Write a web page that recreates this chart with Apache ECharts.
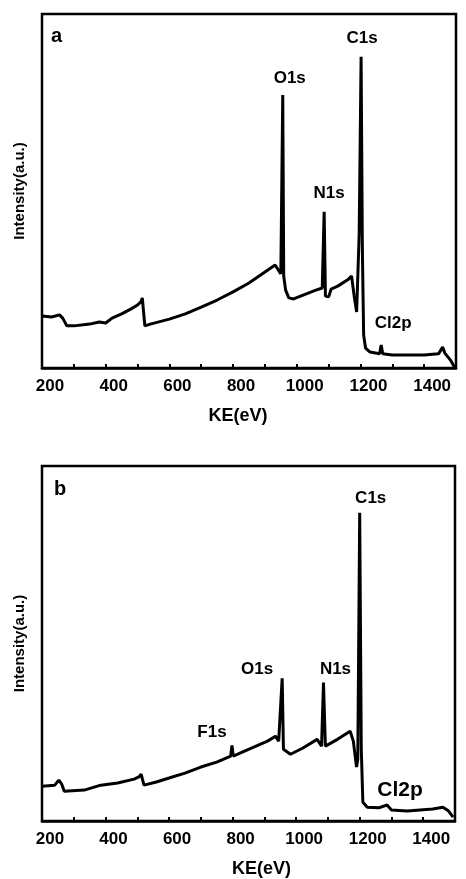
<!DOCTYPE html>
<html>
<head>
<meta charset="utf-8">
<script src="https://cdn.jsdelivr.net/npm/echarts@6/dist/echarts.min.js"></script>
<style>
    html, body { margin: 0; padding: 0; background: #fff; }
    #main { width: 466px; height: 879px; }
</style>
</head>
<body>
<div id="main"></div>
<script>
// 面板 a 的谱线 (动能 eV / 强度 a.u.)
var energyA = [200, 230, 255, 265, 278, 300, 350, 380, 400, 420, 450, 480, 500, 510, 515, 519, 523, 540, 600, 650,
    700, 750, 800, 850, 900, 932, 942, 950, 956, 959, 965, 975, 990, 1020, 1060, 1080, 1086, 1090, 1100, 1108,
    1130, 1160, 1172, 1180, 1188, 1196, 1202, 1206, 1210, 1216, 1230, 1260, 1265, 1270, 1300, 1350, 1400, 1445,
    1458, 1465, 1482, 1497]
var intensityA = [14.7, 14.4, 15.0, 14.1, 11.9, 11.9, 12.4, 13.0, 12.7, 14.1, 15.3, 16.7, 17.8, 18.6, 19.8, 15.8, 11.9, 12.4, 13.8, 15.3,
    17.2, 19.2, 21.5, 24.0, 27.1, 29.1, 27.7, 26.6, 77.1, 26.0, 22.0, 19.8, 19.5, 20.6, 22.0, 22.6, 44.1, 20.3, 20.1, 22.3,
    23.2, 24.9, 26.0, 20.5, 15.8, 38.0, 87.9, 33.3, 9.3, 5.6, 4.5, 4.0, 6.5, 4.0, 3.7, 3.7, 3.7, 4.0,
    5.9, 4.2, 2.3, 0]

// 面板 b 的谱线
var energyB = [200, 240, 253, 262, 270, 333, 385, 438, 490, 505, 512, 521, 560, 600, 650, 700, 750, 794, 798, 802,
    850, 910, 935, 945, 956, 960, 982, 1020, 1066, 1080, 1086, 1092, 1130, 1170, 1180, 1190, 1194, 1200, 1205, 1210,
    1224, 1260, 1286, 1300, 1350, 1430, 1462, 1480, 1494]
var intensityB = [9.8, 10.1, 11.5, 10.4, 8.4, 8.7, 10.1, 10.7, 11.8, 12.4, 13.2, 10.1, 11.0, 12.1, 13.5, 15.2, 16.6, 18.3, 21.3, 18.3,
    20.2, 22.5, 23.9, 22.5, 40.2, 20.2, 18.8, 20.5, 23.0, 21.1, 39.0, 21.1, 23.0, 25.3, 22.5, 15.2, 17.4, 86.8, 20.2, 5.3,
    3.9, 3.7, 4.5, 3.1, 2.8, 3.4, 3.9, 2.8, 1.1]

// 峰的标注
var peakNamesA = ['O1s', 'N1s', 'C1s', 'Cl2p']
var peakEnergyA = [956, 1086, 1202, 1265]
var peakNamesB = ['F1s', 'O1s', 'N1s', 'C1s', 'Cl2p']
var peakEnergyB = [798, 956, 1086, 1200, 1286]

// 刻度
var xMin = 200, xMax = 1500, xStep = 100, labelStep = 200

var font = 'Liberation Sans, Arial, sans-serif'

function pairs(xs, ys) {
    return xs.map(function (x, i) { return [x, ys[i]] })
}

// 标签相对峰顶的偏移 (px)
function peakMarks(names, energies, xs, ys, offsets, sizes) {
    return names.map(function (name, i) {
        var idx = xs.indexOf(energies[i])
        return {
            name: name,
            coord: [energies[i], ys[idx]],
            label: { offset: offsets[i], fontSize: sizes[i] }
        }
    })
}

function makeX(gridIndex, nameShift) {
    return {
        type: 'value', gridIndex: gridIndex, min: xMin, max: xMax, interval: xStep,
        name: 'KE(eV)', nameLocation: 'middle', nameGap: 39,
        nameTextStyle: { fontFamily: font, fontWeight: 'bold', fontSize: 18, color: '#000', padding: nameShift },
        axisLine: { show: true, lineStyle: { color: '#000', width: 2.5 } },
        axisTick: { show: true, inside: true, length: 4, lineStyle: { color: '#000', width: 2 } },
        axisLabel: {
            color: '#000', fontFamily: font, fontWeight: 'bold', fontSize: 17, margin: 10,
            padding: [0, 0, 0, 16],
            formatter: function (v) { return (v % labelStep === 0 && v < xMax) ? v : '' }
        },
        splitLine: { show: false }
    }
}

function makeY(gridIndex) {
    return {
        type: 'value', gridIndex: gridIndex, min: 0, max: 100,
        name: 'Intensity(a.u.)', nameLocation: 'middle', nameGap: 15, nameRotate: 90,
        nameTextStyle: { fontFamily: font, fontWeight: 'bold', fontSize: 15, color: '#000' },
        axisLine: { show: false }, axisTick: { show: false }, axisLabel: { show: false },
        splitLine: { show: false }
    }
}

function makeLine(idx, data, marks) {
    return {
        type: 'line', xAxisIndex: idx, yAxisIndex: idx, data: data,
        showSymbol: false, symbol: 'none', animation: false,
        lineStyle: { color: '#000', width: 3 },
        markPoint: {
            symbol: 'circle', symbolSize: 0, animation: false,
            label: { show: true, position: 'inside', color: '#000', fontFamily: font, fontWeight: 'bold', formatter: '{b}' },
            data: marks
        }
    }
}

var chart = echarts.init(document.getElementById('main'))

var option = {
    backgroundColor: '#fff',
    animation: false,
    title: [
        { text: 'a', left: 46, top: 21, textStyle: { fontFamily: font, fontWeight: 'bold', fontSize: 20, color: '#000' } },
        { text: 'b', left: 49, top: 474, textStyle: { fontFamily: font, fontWeight: 'bold', fontSize: 20, color: '#000' } }
    ],
    grid: [
        { left: 42, right: 10, top: 14, height: 354, show: true, borderColor: '#000', borderWidth: 2.5, backgroundColor: 'transparent' },
        { left: 42, right: 11, top: 466, height: 356, show: true, borderColor: '#000', borderWidth: 2.5, backgroundColor: 'transparent' }
    ],
    xAxis: [makeX(0, [0, 22, 0, 0]), makeX(1, [0, 0, 0, 26])],
    yAxis: [makeY(0), makeY(1)],
    series: [
        makeLine(0, pairs(energyA, intensityA),
            peakMarks(peakNamesA, peakEnergyA, energyA, intensityA,
                [[7, -17], [5, -19], [1, -19], [12, -22]], [17, 17, 17, 17])),
        makeLine(1, pairs(energyB, intensityB),
            peakMarks(peakNamesB, peakEnergyB, energyB, intensityB,
                [[-20, -13], [-25, -9], [12, -13], [11, -15], [13, -15]], [17, 17, 17, 17, 21]))
    ]
}

chart.setOption(option)
</script>
</body>
</html>
